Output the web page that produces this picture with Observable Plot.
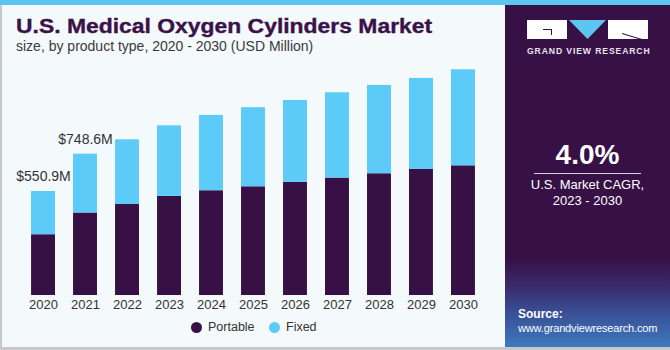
<!DOCTYPE html>
<html>
<head>
<meta charset="utf-8">
<script src="https://cdn.jsdelivr.net/npm/d3@7"></script>
<script src="https://cdn.jsdelivr.net/npm/@observablehq/plot@0.6"></script>
<style>
  html, body { margin: 0; padding: 0; }
  body { width: 670px; height: 350px; overflow: hidden; font-family: "Liberation Sans", Arial, sans-serif; }
  #wrap { position: relative; width: 670px; height: 350px; background: #f4f9fc; overflow: hidden; }
  #stripe { position: absolute; left: 0; top: 0; width: 670px; height: 5px; background: #5dc6f0; }
  #bl { position: absolute; left: 0; top: 5px; width: 2px; height: 345px; background: #c8c8c8; }
  #bb { position: absolute; left: 0; top: 347px; width: 670px; height: 3px; background: #c8c8c8; }
  #title { position: absolute; left: 16px; top: 15px; font-size: 20px; font-weight: bold; color: #3a1248; white-space: nowrap; transform: scaleX(1.145); transform-origin: left top; -webkit-text-stroke: 0.35px #3a1248; }
  #subtitle { position: absolute; left: 16px; top: 38px; font-size: 14px; color: #3a3a3a; white-space: nowrap; }
  #chart { position: absolute; left: 0; top: 60px; }
  #legend { position: absolute; top: 320px; left: 0; width: 505px; font-size: 12.5px; color: #333; }
  .li { position: absolute; top: 0; display: flex; align-items: center; white-space: nowrap; }
  .dot { width: 11px; height: 11px; border-radius: 50%; margin-right: 6px; }
  #panel { position: absolute; left: 505px; top: 5px; width: 165px; height: 342px;
    background: linear-gradient(to bottom, #371146 0%, #371146 74%, #3a2a6a 82%, #3a4f95 90%, #3b79c0 100%); color: #fff; }
  .lg { position: absolute; top: 15px; height: 19px; }
  #lg1 { left: 22px; width: 40px; background: #ffffff; }
  #lg2 { left: 64px; width: 37px; background: #5dc6f0; clip-path: polygon(0 0, 100% 0, 50% 100%); }
  #lg3 { left: 103px; width: 40px; background: #ffffff; }
  .lgd { position: absolute; background: #371146; }
  #gvr { position: absolute; left: 22px; width: 122px; top: 41px; text-align: center; font-size: 8.6px; font-weight: bold; letter-spacing: 0.9px; color: #e8e4ee; white-space: nowrap; }
  #cagr { position: absolute; left: 0; width: 165px; top: 134px; text-align: center; font-size: 28px; font-weight: bold; }
  #rule { position: absolute; left: 29px; width: 107px; top: 168px; height: 1px; background: #d8cfe0; }
  #cagrtxt { position: absolute; left: 0; width: 165px; top: 172px; text-align: center; font-size: 13px; line-height: 16px; }
  #src { position: absolute; left: 13px; top: 302px; font-size: 11px; line-height: 14px; white-space: nowrap; letter-spacing: -0.15px; }
  #src b { font-size: 12px; letter-spacing: 0; }
</style>
</head>
<body>
<div id="wrap">
  <div id="stripe"></div>
  <div id="bl"></div>
  <div id="title"></div>
  <div id="subtitle"></div>
  <div id="chart"></div>
  <div id="legend"></div>
  <div id="panel">
    <div class="lg" id="lg1">
      <div class="lgd" style="left:16px;top:9px;width:9px;height:1px"></div>
      <div class="lgd" style="left:24px;top:9px;width:1px;height:6px"></div>
    </div>
    <div class="lg" id="lg2"></div>
    <div class="lg" id="lg3">
      <div class="lgd" style="left:14px;top:13px;width:26px;height:1px;transform:rotate(17deg);transform-origin:left center"></div>
    </div>
    <div id="gvr">GRAND VIEW RESEARCH</div>
    <div id="cagr"></div>
    <div id="rule"></div>
    <div id="cagrtxt"></div>
    <div id="src"><b>Source:</b><br>www.grandviewresearch.com</div>
  </div>
  <div id="bb"></div>
</div>
<script>
// ---- Data ----
const years = ["2020","2021","2022","2023","2024","2025","2026","2027","2028","2029","2030"];
const portable = [322, 437, 482, 525, 555, 576, 599, 622, 645, 668, 687];
const fixed = [228.9, 311.6, 343, 374, 399, 419, 434, 452, 468, 482, 509];
const seriesNames = ["Portable", "Fixed"];
const seriesColors = ["#371146", "#5dcbf7"];
const annotYears = ["2020", "2021"];
const annotValues = [550.9, 748.6];
const annotLabels = ["$550.9M", "$748.6M"];
const titleText = "U.S. Medical Oxygen Cylinders Market";
const subtitleText = "size, by product type, 2020 - 2030 (USD Million)";
const cagrValue = "4.0%";
const cagrLabel = ["U.S. Market CAGR,", "2023 - 2030"];

document.getElementById("title").textContent = titleText;
document.getElementById("subtitle").textContent = subtitleText;
document.getElementById("cagr").textContent = cagrValue;
document.getElementById("cagrtxt").innerHTML = cagrLabel.join("<br>");

const rows = [];
years.forEach((y, i) => {
  rows.push({year: y, series: seriesNames[0], value: portable[i]});
  rows.push({year: y, series: seriesNames[1], value: fixed[i]});
});
const annots = annotYears.map((y, i) => ({year: y, value: annotValues[i], label: annotLabels[i]}));

const chart = Plot.plot({
  width: 505,
  height: 260,
  marginLeft: 13,
  marginRight: 12,
  marginTop: 0,
  marginBottom: 25,
  style: {background: "transparent", fontFamily: "Liberation Sans, Arial, sans-serif"},
  x: {domain: years, padding: 0.43, round: false, label: null, tickSize: 0, tickPadding: 4},
  y: {domain: [0, 1245], axis: null},
  color: {domain: seriesNames, range: seriesColors},
  marks: [
    Plot.barY(rows, {x: "year", y: "value", fill: "series"}),
    Plot.text(annots, {x: "year", y: "value", text: "label", dy: -15, fontSize: 14, fill: "#333"}),
    Plot.axisX({tickSize: 0, tickPadding: 4, fontSize: 13, color: "#333", label: null})
  ]
});
document.getElementById("chart").appendChild(chart);

// legend
const legend = document.getElementById("legend");
const legendX = [191, 269];
seriesNames.forEach((s, i) => {
  const el = document.createElement("div");
  el.className = "li";
  el.style.left = legendX[i] + "px";
  el.innerHTML = `<span class="dot" style="background:${seriesColors[i]}"></span>${s}`;
  legend.appendChild(el);
});
</script>
</body>
</html>
